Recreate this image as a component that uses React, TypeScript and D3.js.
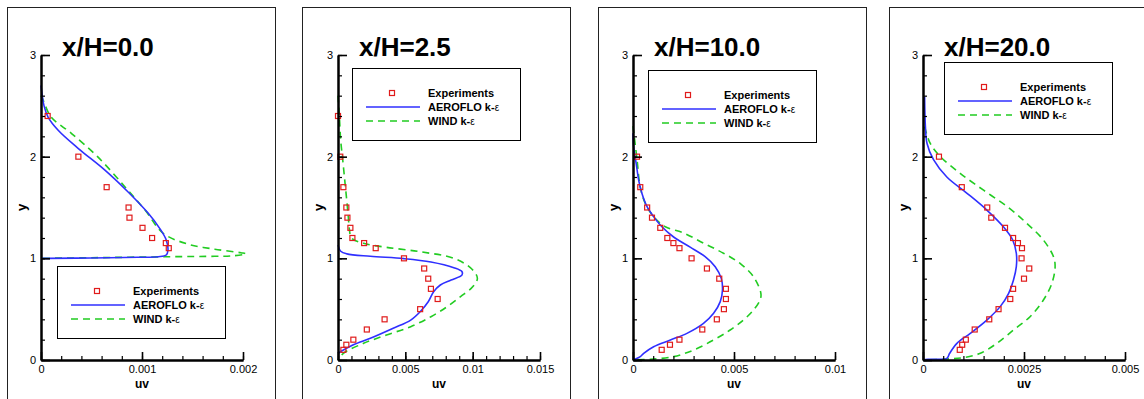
import React, { useEffect, useRef } from "react";
import * as d3 from "d3";

// ---------- data ----------
const titles = ["x/H=0.0", "x/H=2.5", "x/H=10.0", "x/H=20.0"];
const xMax = [0.002, 0.015, 0.01, 0.005];
const xMajorTicks = [
  [0, 0.001, 0.002],
  [0, 0.005, 0.01, 0.015],
  [0, 0.005, 0.01],
  [0, 0.0025, 0.005],
];
const xTickLabels = [
  ["0", "0.001", "0.002"],
  ["0", "0.005", "0.01", "0.015"],
  ["0", "0.005", "0.01"],
  ["0", "0.0025", "0.005"],
];
const xMinorStep = [0.0002, 0.001, 0.001, 0.0005];
const yMajorTicks = [0, 1, 2, 3];
const yTickLabels = ["0", "1", "2", "3"];
const yMinorStep = 0.2;
const legendNames = ["Experiments", "AEROFLO k-", "WIND k-"];

// x/H = 0.0
const exp0: [number, number][] = [
  [0.000066, 2.4], [0.00037, 2.0], [0.00065, 1.7], [0.000867, 1.5], [0.000876, 1.4],
  [0.001005, 1.3], [0.0011, 1.2], [0.001236, 1.15], [0.001265, 1.1],
];
const aero0: [number, number][] = [
  [0, 2.7], [0.00001, 2.62], [0.00003, 2.5], [0.00007, 2.39], [0.00017, 2.26], [0.00037, 2.08],
  [0.00063, 1.87], [0.00086, 1.655], [0.00106, 1.445], [0.001175, 1.295], [0.00124, 1.18],
  [0.001257, 1.08], [0.00124, 1.033], [0.00116, 1.016], [0.00096, 1.01], [0.0005, 1.004],
  [0.00007, 1.0], [0, 1.0],
];
const wind0: [number, number][] = [
  [0, 2.6], [0.00002, 2.56], [0.0001, 2.39], [0.0003, 2.23], [0.00056, 2.0], [0.00083, 1.705],
  [0.00103, 1.475], [0.00121, 1.246], [0.001455, 1.14], [0.00172, 1.09], [0.00198, 1.055],
  [0.00203, 1.045], [0.0019, 1.025], [0.00172, 1.02], [0.00129, 1.016], [0.0005, 1.006], [0, 1.0],
];

// x/H = 2.5
const exp1: [number, number][] = [
  [0, 2.4], [0.00017, 2.0], [0.0004, 1.7], [0.00062, 1.5], [0.0007, 1.4], [0.00092, 1.3],
  [0.00107, 1.2], [0.00194, 1.15], [0.0028, 1.1], [0.0049, 1.0], [0.0064, 0.9], [0.0067, 0.8],
  [0.0069, 0.7], [0.0074, 0.6], [0.0061, 0.5], [0.00346, 0.4], [0.00214, 0.3], [0.00114, 0.2],
  [0.00062, 0.15], [0.0004, 0.1],
];
const aero1: [number, number][] = [
  [0, 1.13], [0.0002, 1.07], [0.00065, 1.044], [0.0024, 1.02], [0.0049, 0.997], [0.0069, 0.964],
  [0.0086, 0.908], [0.0092, 0.87], [0.0092, 0.835], [0.0084, 0.787], [0.0076, 0.738],
  [0.0071, 0.672], [0.0067, 0.573], [0.0061, 0.475], [0.0054, 0.393], [0.0041, 0.312],
  [0.0024, 0.213], [0.0011, 0.147], [0, 0.066],
];
const wind1: [number, number][] = [
  [0, 2.6], [0.0001, 2.4], [0.0002, 2.16], [0.00035, 1.97], [0.0005, 1.77], [0.00065, 1.57],
  [0.00077, 1.4], [0.00085, 1.28], [0.001, 1.2], [0.0019, 1.148], [0.0036, 1.108], [0.0061, 1.065],
  [0.0086, 1.0], [0.0099, 0.9], [0.01035, 0.804], [0.01, 0.72], [0.0091, 0.623], [0.0081, 0.524],
  [0.0069, 0.426], [0.0054, 0.328], [0.0036, 0.246], [0.0019, 0.164], [0.0004, 0.066], [0, 0],
];

// x/H = 10.0
const exp2: [number, number][] = [
  [0.0002, 2.0], [0.00036, 1.7], [0.0007, 1.5], [0.00094, 1.4], [0.00135, 1.3], [0.0017, 1.2],
  [0.002, 1.15], [0.0023, 1.1], [0.0029, 1.0], [0.00366, 0.9], [0.00427, 0.8], [0.0046, 0.7],
  [0.0046, 0.6], [0.0045, 0.5], [0.00415, 0.4], [0.00343, 0.3], [0.0023, 0.2], [0.00183, 0.15],
  [0.00142, 0.1],
];
const aero2: [number, number][] = [
  [0, 2.23], [0.00003, 2.1], [0.00016, 1.93], [0.00028, 1.77], [0.00044, 1.64], [0.00069, 1.51],
  [0.00102, 1.41], [0.00143, 1.31], [0.00201, 1.21], [0.00283, 1.11], [0.00357, 1.016],
  [0.00407, 0.918], [0.00437, 0.803], [0.00443, 0.689], [0.00432, 0.574], [0.00399, 0.459],
  [0.00349, 0.36], [0.00267, 0.262], [0.00185, 0.197], [0.00102, 0.131], [0.00053, 0.066],
  [0.00036, 0.033], [0.00012, 0.01], [0, 0],
];
const wind2: [number, number][] = [
  [0, 2.3], [0.0002, 1.97], [0.00036, 1.7], [0.00061, 1.54], [0.00102, 1.41], [0.0016, 1.31],
  [0.0025, 1.25], [0.00349, 1.15], [0.00448, 1.05], [0.0053, 0.95], [0.00596, 0.82],
  [0.00633, 0.656], [0.00629, 0.59], [0.00596, 0.49], [0.00547, 0.393], [0.00481, 0.295],
  [0.00399, 0.197], [0.003, 0.098], [0.00201, 0.033], [0.00086, 0.007], [0, 0],
];

// x/H = 20.0
const exp3: [number, number][] = [
  [0.000395, 2.0], [0.00096, 1.7], [0.00159, 1.5], [0.00169, 1.4], [0.00203, 1.3], [0.00223, 1.2],
  [0.00235, 1.15], [0.00245, 1.1], [0.00244, 1.0], [0.00263, 0.9], [0.0025, 0.8], [0.00223, 0.7],
  [0.00216, 0.6], [0.00187, 0.5], [0.00164, 0.4], [0.00128, 0.3], [0.00106, 0.2], [0.00097, 0.15],
  [0.00091, 0.1],
];
const aero3: [number, number][] = [
  [0.00004, 2.59], [0.00006, 2.295], [0.0001, 2.13], [0.00026, 1.97], [0.00059, 1.8],
  [0.00109, 1.64], [0.00158, 1.475], [0.00199, 1.31], [0.00222, 1.18], [0.00231, 1.05],
  [0.00231, 0.918], [0.00224, 0.787], [0.00212, 0.656], [0.00191, 0.525], [0.00158, 0.393],
  [0.00117, 0.262], [0.00084, 0.164], [0.00066, 0.066], [0.00059, 0.016], [0.00018, 0.007],
  [0, 0.003],
];
const wind3: [number, number][] = [
  [0.00004, 2.295], [0.00018, 2.13], [0.00043, 2.0], [0.00092, 1.836], [0.0015, 1.67],
  [0.00208, 1.51], [0.00257, 1.344], [0.00298, 1.18], [0.00323, 1.016], [0.00327, 0.918],
  [0.00319, 0.754], [0.00298, 0.59], [0.00265, 0.426], [0.00224, 0.295], [0.00183, 0.164],
  [0.00142, 0.066], [0.001, 0.023], [0.00059, 0.01], [0, 0],
];

const experiments = [exp0, exp1, exp2, exp3];
const aeroflo = [aero0, aero1, aero2, aero3];
const wind = [wind0, wind1, wind2, wind3];

// ---------- layout ----------
const W = 1144;
const H = 399;
const frameLeft = [7, 302, 598, 889];
const frameTop = 7;
const frameW = 268;
const axisLeft = [41, 338, 633, 923];
const plotW = 202;
const plotTop = 55;
const plotBottom = 360;
const legendPos = [
  [57, 266],
  [352, 68],
  [648, 70],
  [944, 62],
];
const legendW = 168;
const legendH = 72;

const RED = "#e01b1b";
const BLUE = "#2f2fff";
const GREEN = "#22cc22";
const FONT = "'Liberation Sans', Arial, Helvetica, sans-serif";

export default function App() {
  const ref = useRef<SVGSVGElement>(null);

  useEffect(() => {
    const svg = d3.select(ref.current);
    svg.selectAll("*").remove();
    svg.append("rect").attr("width", W).attr("height", H).attr("fill", "#fff");

    titles.forEach((title, i) => {
      const g = svg.append("g");
      const x = d3.scaleLinear().domain([0, xMax[i]]).range([axisLeft[i], axisLeft[i] + plotW]);
      const y = d3.scaleLinear().domain([0, 3]).range([plotBottom, plotTop]);

      // frame
      g.append("rect")
        .attr("x", frameLeft[i] + 0.5)
        .attr("y", frameTop + 0.5)
        .attr("width", frameW)
        .attr("height", 420)
        .attr("fill", "none")
        .attr("stroke", "#222")
        .attr("stroke-width", 1);

      // title
      g.append("text")
        .attr("x", axisLeft[i] + 21)
        .attr("y", 56)
        .attr("font-family", FONT)
        .attr("font-weight", "bold")
        .attr("font-size", 26)
        .attr("fill", "#000")
        .text(title);

      const line = d3
        .line<[number, number]>()
        .x((d) => x(d[0]))
        .y((d) => y(d[1]))
        .curve(d3.curveCatmullRom.alpha(0.5));

      // curves
      g.append("path")
        .attr("d", line(wind[i]))
        .attr("fill", "none")
        .attr("stroke", GREEN)
        .attr("stroke-width", 1.6)
        .attr("stroke-dasharray", "7,5");
      g.append("path")
        .attr("d", line(aeroflo[i]))
        .attr("fill", "none")
        .attr("stroke", BLUE)
        .attr("stroke-width", 1.6);

      // experiments
      g.selectAll("rect.exp")
        .data(experiments[i])
        .enter()
        .append("rect")
        .attr("class", "exp")
        .attr("x", (d) => x(d[0]) - 2.5)
        .attr("y", (d) => y(d[1]) - 2.5)
        .attr("width", 5)
        .attr("height", 5)
        .attr("fill", "none")
        .attr("stroke", RED)
        .attr("stroke-width", 1.2);

      // axes
      const minorX = d3.range(0, xMax[i] + 1e-12, xMinorStep[i]);
      const minorY = d3.range(0, 3 + 1e-9, yMinorStep);
      const xMinor = d3.axisBottom(x).tickValues(minorX).tickSize(-4).tickSizeOuter(0).tickFormat(() => "");
      const yMinor = d3.axisLeft(y).tickValues(minorY).tickSize(-4).tickSizeOuter(0).tickFormat(() => "");
      const xMajor = d3
        .axisBottom(x)
        .tickValues(xMajorTicks[i])
        .tickSize(-8)
        .tickSizeOuter(0)
        .tickPadding(5)
        .tickFormat((_, k) => xTickLabels[i][k]);
      const yMajor = d3
        .axisLeft(y)
        .tickValues(yMajorTicks)
        .tickSize(-9)
        .tickSizeOuter(0)
        .tickPadding(5)
        .tickFormat((_, k) => yTickLabels[k]);

      const styleAxis = (sel: any, w: number) => {
        sel.select(".domain").attr("stroke", "#000").attr("stroke-width", 2);
        sel.selectAll(".tick line").attr("stroke", "#000").attr("stroke-width", w);
        sel.selectAll(".tick text").attr("font-family", FONT).attr("font-size", 11).attr("fill", "#000");
      };
      const gx1 = g.append("g").attr("transform", `translate(0,${plotBottom})`).call(xMinor);
      styleAxis(gx1, 1.2);
      const gy1 = g.append("g").attr("transform", `translate(${axisLeft[i]},0)`).call(yMinor);
      styleAxis(gy1, 1.2);
      const gx2 = g.append("g").attr("transform", `translate(0,${plotBottom})`).call(xMajor);
      styleAxis(gx2, 1.6);
      const gy2 = g.append("g").attr("transform", `translate(${axisLeft[i]},0)`).call(yMajor);
      styleAxis(gy2, 1.6);

      // axis titles
      g.append("text")
        .attr("x", axisLeft[i] + plotW / 2)
        .attr("y", 388)
        .attr("text-anchor", "middle")
        .attr("font-family", FONT)
        .attr("font-weight", "bold")
        .attr("font-size", 12)
        .text("uv");
      g.append("text")
        .attr("transform", `translate(${axisLeft[i] - 15},${(plotTop + plotBottom) / 2}) rotate(-90)`)
        .attr("text-anchor", "middle")
        .attr("font-family", FONT)
        .attr("font-weight", "bold")
        .attr("font-size", 13)
        .text("y");

      // legend
      const [lx, ly] = legendPos[i];
      const lg = g.append("g").attr("transform", `translate(${lx},${ly})`);
      lg.append("rect")
        .attr("x", 0.5)
        .attr("y", 0.5)
        .attr("width", legendW)
        .attr("height", legendH)
        .attr("fill", "#fff")
        .attr("stroke", "#000")
        .attr("stroke-width", 1);
      const rows = [25, 39, 53];
      lg.append("rect")
        .attr("x", 40 - 2.5)
        .attr("y", rows[0] - 2.5)
        .attr("width", 5)
        .attr("height", 5)
        .attr("fill", "none")
        .attr("stroke", RED)
        .attr("stroke-width", 1.2);
      lg.append("line")
        .attr("x1", 14).attr("x2", 68).attr("y1", rows[1]).attr("y2", rows[1])
        .attr("stroke", BLUE).attr("stroke-width", 1.6);
      lg.append("line")
        .attr("x1", 14).attr("x2", 68).attr("y1", rows[2]).attr("y2", rows[2])
        .attr("stroke", GREEN).attr("stroke-width", 1.6).attr("stroke-dasharray", "7,5");
      legendNames.forEach((name, k) => {
        const t = lg.append("text")
          .attr("x", 76)
          .attr("y", rows[k] + 4)
          .attr("font-family", FONT)
          .attr("font-weight", "bold")
          .attr("font-size", 11)
          .text(name);
        if (k > 0) {
          t.append("tspan").attr("font-weight", "normal").attr("font-size", 10).text("ε");
        }
      });
    });
  }, []);

  return (
    <svg
      ref={ref}
      width={W}
      height={H}
      style={{ position: "absolute", left: 0, top: 0, display: "block" }}
    />
  );
}
